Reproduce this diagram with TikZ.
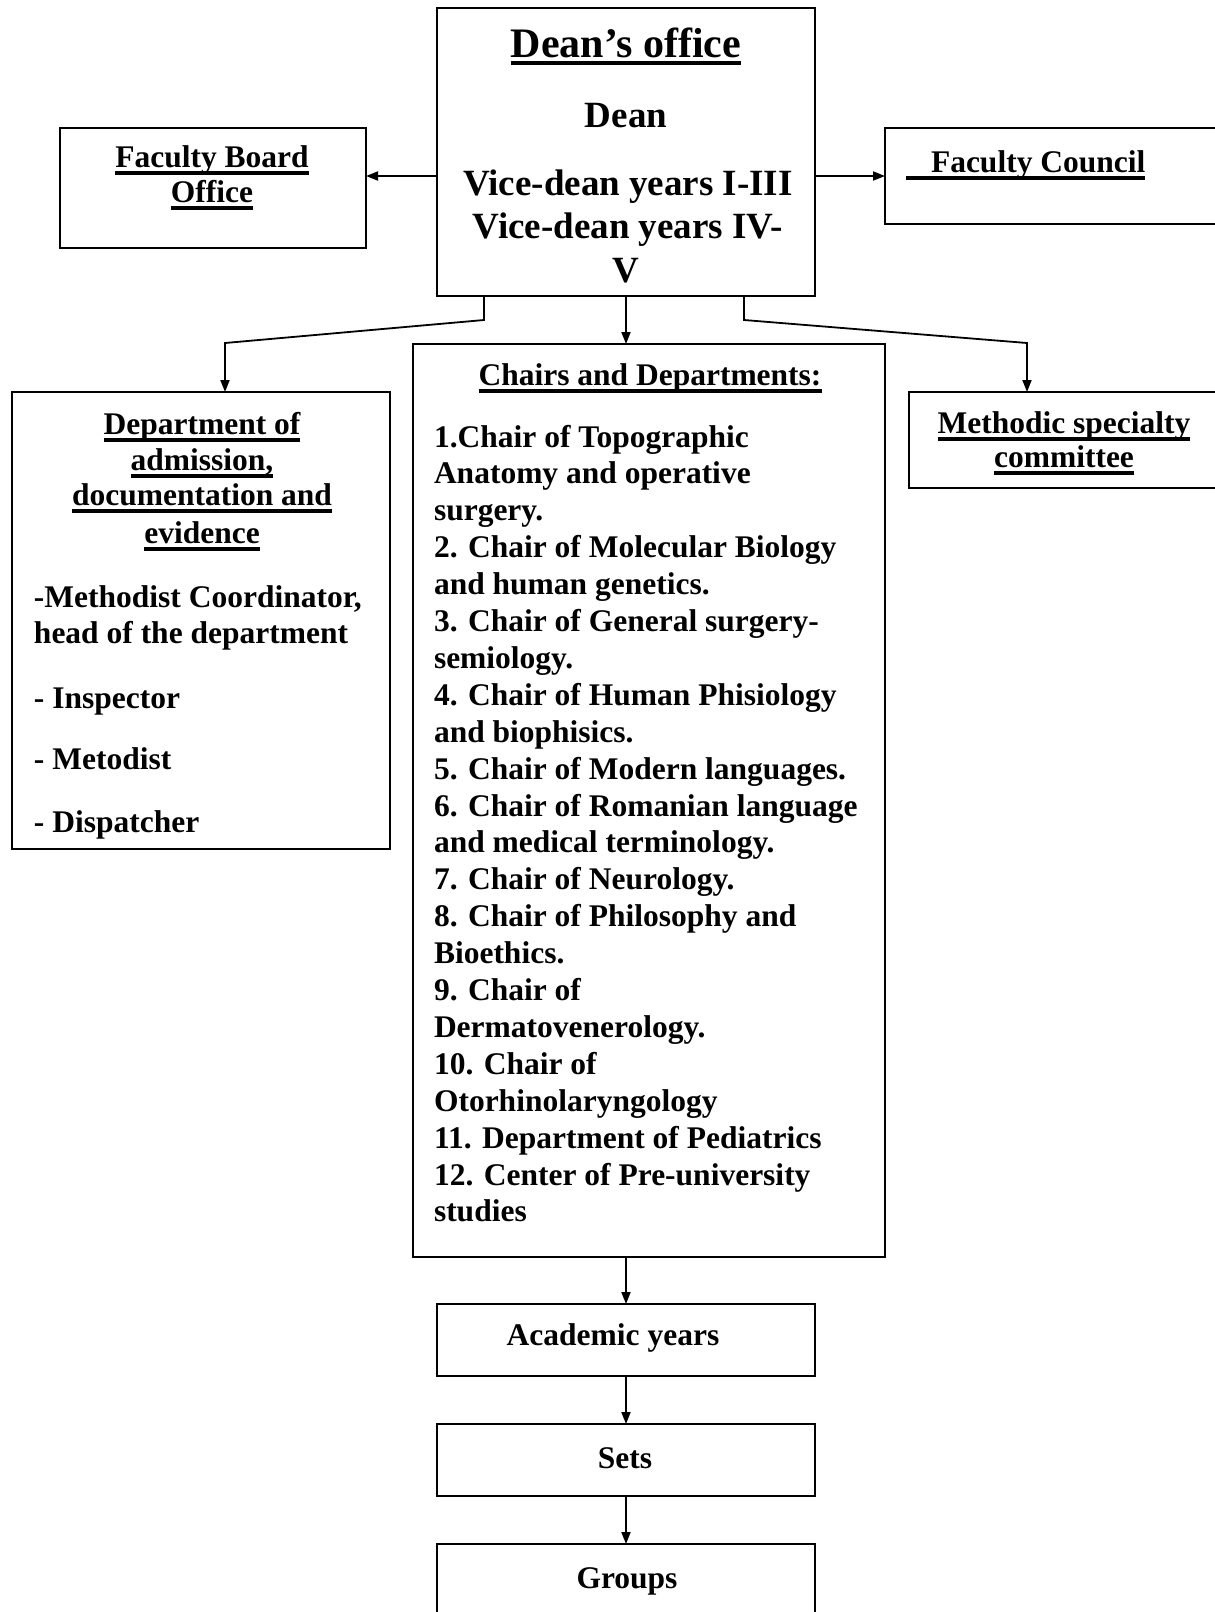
\documentclass[tikz,border=0pt]{standalone}
\usepackage{fontspec}
\setmainfont{Liberation Serif}
\usetikzlibrary{arrows.meta}
\newcommand{\ulx}[1]{\setbox0=\hbox{#1}\leavevmode\rlap{\rule[-7.8pt]{\wd0}{3.4pt}}\box0}
\newcommand{\fsbody}{\fontsize{31.5}{37}\selectfont}
\newcommand{\fsvice}{\fontsize{37}{43}\selectfont}
\newcommand{\fstitle}{\fontsize{42}{48}\selectfont}
\begin{document}
\begin{tikzpicture}[x=1pt,y=-1pt,
  box/.style={draw, line width=2pt, inner sep=0pt, outer sep=0pt, anchor=north west},
  arr/.style={line width=1.8pt, -{Triangle[length=12pt,width=9pt]}},
  txt/.style={inner sep=0pt, outer sep=0pt, font=\bfseries\fsbody},
  vtxt/.style={inner sep=0pt, outer sep=0pt, font=\bfseries\fsvice},
]
\useasboundingbox (0,0) rectangle (1215,1612);
\fill[white] (0,0) rectangle (1215,1612);
\clip (0,0) rectangle (1215,1612);

% boxes
\node[box, minimum width=378pt, minimum height=288pt] (dean) at (437,8) {};
\node[box, minimum width=306pt, minimum height=120pt] (fbo) at (60,128) {};
\node[box, minimum width=340pt, minimum height=96pt] (fc) at (885,128) {};
\node[box, minimum width=378pt, minimum height=457pt] (dept) at (12,392) {};
\node[box, minimum width=472pt, minimum height=913pt] (chairs) at (413,344) {};
\node[box, minimum width=320pt, minimum height=96pt] (msc) at (909,392) {};
\node[box, minimum width=378pt, minimum height=72pt] (ay) at (437,1304) {};
\node[box, minimum width=378pt, minimum height=72pt] (sets) at (437,1424) {};
\node[box, minimum width=378pt, minimum height=100pt] (groups) at (437,1544) {};

% Dean's office texts
\node[inner sep=0pt, font=\bfseries\fstitle, anchor=base] (tdo) at (626,57) {\ulx{Dean’s office}};
\node[vtxt, anchor=base] (tdean) at (626,127) {Dean};
\node[vtxt, anchor=base] (tv1) at (628,195) {Vice-dean years I-III};
\node[vtxt, anchor=base] (tv2) at (628,238) {Vice-dean years IV-};
\node[vtxt, anchor=base] (tv3) at (626,282) {V};

% Faculty board office
\node[txt, anchor=base] (tfb1) at (212,167) {\ulx{Faculty Board}};
\node[txt, anchor=base] (tfb2) at (212,202) {\ulx{Office}};

% Faculty council
\node[txt, anchor=base west] (tfc) at (906,172) {\ulx{\hspace{25pt}Faculty Council}};

% Methodic specialty committee
\node[txt, anchor=base] (tm1) at (1064,433) {\ulx{Methodic specialty}};
\node[txt, anchor=base] (tm2) at (1064,467) {\ulx{committee}};

% Department of admission
\node[txt, anchor=base] (td1) at (202,434) {\ulx{Department of}};
\node[txt, anchor=base] (td2) at (202,470) {\ulx{admission,}};
\node[txt, anchor=base] (td3) at (202,505) {\ulx{documentation and}};
\node[txt, anchor=base] (td4) at (202,543) {\ulx{evidence}};
\node[txt, anchor=base west] (td5) at (34,607) {-Methodist Coordinator,};
\node[txt, anchor=base west] (td6) at (34,643) {head of the department};
\node[txt, anchor=base west] (td7) at (34,708) {- Inspector};
\node[txt, anchor=base west] (td8) at (34,769) {- Metodist};
\node[txt, anchor=base west] (td9) at (34,832) {- Dispatcher};

% Chairs and departments
\node[txt, anchor=base] (tch) at (650,385) {\ulx{Chairs and Departments:}};
\foreach \t [count=\i] in {
  1.Chair of Topographic,
  Anatomy and operative,
  surgery.,
  2. Chair of Molecular Biology,
  and human genetics.,
  3. Chair of General surgery-,
  semiology.,
  4. Chair of Human Phisiology,
  and biophisics.,
  5. Chair of Modern languages.,
  6. Chair of Romanian language,
  and medical terminology.,
  7. Chair of Neurology.,
  8. Chair of Philosophy and,
  Bioethics.,
  9. Chair of,
  Dermatovenerology.,
  10. Chair of,
  Otorhinolaryngology,
  11. Department of Pediatrics,
  12. Center of Pre-university,
  studies}
  \node[txt, anchor=base west] (c\i) at (434,{447+36.9*(\i-1)}) {\t};

% bottom chain
\node[txt, anchor=base] (tay) at (613,1345) {Academic years};
\node[txt, anchor=base] (tsets) at (625,1468) {Sets};
\node[txt, anchor=base] (tgr) at (627,1588) {Groups};

% connectors
\coordinate (hl) at (437,176);
\coordinate (hr) at (815,176);
\draw[arr] (hl) -- (hl -| fbo.east);
\draw[arr] (hr) -- (hr -| fc.west);

\coordinate (l1) at (484,320);
\coordinate (l2) at (225,343);
\coordinate (r1) at (744,320);
\coordinate (r2) at (1027,343);
\draw[arr] (dean.south -| l1) -- (l1) -- (l2) -- (l2 |- dept.north);
\draw[arr] (dean.south -| r1) -- (r1) -- (r2) -- (r2 |- msc.north);
\draw[arr] (dean.south) -- (dean.south |- chairs.north);
\draw[arr] (ay.north |- chairs.south) -- (ay.north);
\draw[arr] (ay.south) -- (sets.north);
\draw[arr] (sets.south) -- (groups.north);
\end{tikzpicture}
\end{document}
